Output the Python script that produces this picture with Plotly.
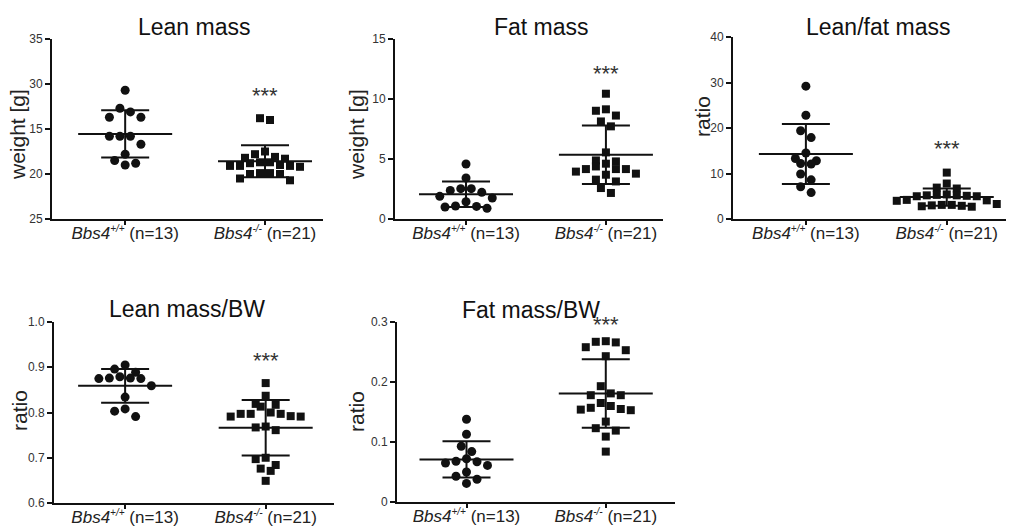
import statistics
import plotly.graph_objects as go

# Group labels (wild type vs knockout)
SUP = '<sup><span style="font-size:10px">{}</span></sup>'
group_labels = [
    "<i>Bbs4" + SUP.format("+/+") + "</i> (n=13)",
    "<i>Bbs4" + SUP.format("-/-") + "</i> (n=21)",
]

# Lean mass [g]
lean_wt = [29.3, 27.3, 26.9, 26.3, 26.3, 24.2, 24.2, 24.2, 23.3, 22.2, 21.5, 21.0, 21.2]
lean_ko = [26.2, 26.0, 22.5, 22.2, 21.9, 21.7, 21.8, 21.3, 21.3, 21.0, 20.8,
           20.9, 20.9, 20.9, 21.2, 20.1, 20.0, 20.0, 20.1, 19.3, 19.5]
lean_ticks = [15, 20, 25, 30, 35]
lean_ticktext = ["25", "20", "15", "30", "35"]

# Fat mass [g]
fat_wt = [4.58, 3.42, 2.53, 2.53, 2.22, 2.38, 1.89, 1.44, 1.75, 1.05, 0.90, 1.0, 1.08]
fat_ko = [10.44, 9.14, 9.02, 8.62, 8.13, 7.72, 5.55, 4.80, 4.88, 4.61, 4.38,
          4.16, 3.78, 3.95, 4.16, 4.16, 3.69, 3.28, 3.13, 2.58, 2.17]
fat_ticks = [0, 5, 10, 15]
fat_ticktext = ["0", "5", "10", "15"]

# Lean/fat mass ratio
leanfat_wt = [29.2, 22.8, 17.9, 19.4, 12.8, 12.1, 14.5, 12.2, 13.3, 9.9, 8.6, 7.1, 5.8]
leanfat_ko = [10.2, 7.8, 6.9, 6.7, 5.4, 5.0, 5.1, 5.3, 5.2, 5.2, 5.0,
              4.2, 4.1, 4.0, 3.3, 3.0, 2.8, 2.7, 2.9, 3.1, 3.1]
leanfat_ticks = [0, 10, 20, 30, 40]
leanfat_ticktext = ["0", "10", "20", "30", "40"]

# Lean mass / body weight
leanbw_wt = [0.905, 0.896, 0.889, 0.876, 0.875, 0.875, 0.876, 0.879, 0.859,
             0.834, 0.808, 0.803, 0.791]
leanbw_ko = [0.865, 0.837, 0.819, 0.817, 0.813, 0.800, 0.797, 0.792, 0.791, 0.791,
             0.797, 0.797, 0.767, 0.761, 0.769, 0.697, 0.700, 0.684, 0.671, 0.676, 0.649]
leanbw_ticks = [0.6, 0.7, 0.8, 0.9, 1.0]
leanbw_ticktext = ["0.6", "0.7", "0.8", "0.9", "1.0"]

# Fat mass / body weight
fatbw_wt = [0.138, 0.113, 0.093, 0.084, 0.072, 0.067, 0.068, 0.065, 0.061,
            0.050, 0.043, 0.038, 0.031]
fatbw_ko = [0.268, 0.266, 0.267, 0.253, 0.258, 0.243, 0.193, 0.181, 0.178, 0.178,
            0.165, 0.157, 0.155, 0.153, 0.160, 0.154, 0.134, 0.119, 0.123, 0.109, 0.084]
fatbw_ticks = [0, 0.1, 0.2, 0.3]
fatbw_ticktext = ["0", "0.1", "0.2", "0.3"]

W, H = 1009, 528
FONT = "Liberation Sans, Arial, sans-serif"
INK = "#111111"

# Panel geometry in pixels: plot box (left, right, top, bottom), category fractions,
# title / y-title anchors and the height of the significance stars.
panels = [
    dict(title="Lean mass", ytitle="weight [g]", wt=lean_wt, ko=lean_ko,
         ticks=lean_ticks, ticktext=lean_ticktext,
         box=(52, 323, 39, 219), cats=(0.27, 0.786),
         tpos=(194, 27), ypos=(18, 135), star=29.0),
    dict(title="Fat mass", ytitle="weight [g]", wt=fat_wt, ko=fat_ko,
         ticks=fat_ticks, ticktext=fat_ticktext,
         box=(395, 663, 39, 219), cats=(0.265, 0.787),
         tpos=(541, 27), ypos=(357, 135), star=12.3),
    dict(title="Lean/fat mass", ytitle="ratio", wt=leanfat_wt, ko=leanfat_ko,
         ticks=leanfat_ticks, ticktext=leanfat_ticktext,
         box=(733, 1006, 37, 219), cats=(0.267, 0.783),
         tpos=(878, 27), ypos=(703, 117), star=15.9),
    dict(title="Lean mass/BW", ytitle="ratio", wt=leanbw_wt, ko=leanbw_ko,
         ticks=leanbw_ticks, ticktext=leanbw_ticktext,
         box=(54, 334, 322, 503), cats=(0.254, 0.756),
         tpos=(187, 309), ypos=(19, 411), star=0.919),
    dict(title="Fat mass/BW", ytitle="ratio", wt=fatbw_wt, ko=fatbw_ko,
         ticks=fatbw_ticks, ticktext=fatbw_ticktext,
         box=(397, 675, 322, 502), cats=(0.25, 0.751),
         tpos=(531, 310), ypos=(356, 412), star=0.300),
]


def swarm_offsets(vals, px_per_unit, bin_px=10.0, step_px=10.0):
    """Prism-style scatter: points within bin_px (vertically) share a row,
    rows are spread symmetrically around the group centre. Returns pixels."""
    order = sorted(range(len(vals)), key=lambda i: -vals[i])
    rows, cur = [], []
    for i in order:
        if cur and (vals[cur[0]] - vals[i]) * px_per_unit > bin_px:
            rows.append(cur)
            cur = []
        cur.append(i)
    if cur:
        rows.append(cur)
    offs = [0.0] * len(vals)
    for row in rows:
        n = len(row)
        slots = [(k - (n - 1) / 2) * step_px for k in range(n)]
        slots.sort(key=lambda s: (abs(s), s))
        for i, s in zip(row, slots):
            offs[i] = s
    return offs


fig = go.Figure()
annotations = []
layout_axes = {}

for k, p in enumerate(panels, start=1):
    xs = "" if k == 1 else str(k)
    left, right, top, bottom = p["box"]
    f0, f1 = p["cats"]
    span = 1.0 / (f1 - f0)
    x_lo = -f0 * span
    x_hi = x_lo + span
    ymin, ymax = p["ticks"][0], p["ticks"][-1]
    px_x = (right - left) / span          # pixels per x unit
    px_y = (bottom - top) / (ymax - ymin)  # pixels per y unit

    for g, (vals, sym, size, step) in enumerate(
            [(p["wt"], "circle", 9, 10.5), (p["ko"], "square", 8, 10.0)]):
        offs = swarm_offsets(vals, px_y, bin_px=10, step_px=step)
        fig.add_trace(go.Scatter(
            x=[g + o / px_x for o in offs], y=vals, mode="markers",
            marker=dict(symbol=sym, size=size, color=INK, line=dict(width=0)),
            xaxis="x" + xs, yaxis="y" + xs, showlegend=False, hoverinfo="y"))

        m = statistics.mean(vals)
        sd = statistics.stdev(vals)
        hm = 47 / px_x   # half width of mean bar
        hs = 24 / px_x   # half width of SD caps
        lx = [g - hm, g + hm, None, g - hs, g + hs, None, g - hs, g + hs, None, g, g]
        ly = [m, m, None, m + sd, m + sd, None, m - sd, m - sd, None, m - sd, m + sd]
        fig.add_trace(go.Scatter(
            x=lx, y=ly, mode="lines", line=dict(color=INK, width=2),
            xaxis="x" + xs, yaxis="y" + xs, showlegend=False, hoverinfo="skip"))

    layout_axes["xaxis" + xs] = dict(
        domain=[left / W, right / W], range=[x_lo, x_hi], anchor="y" + xs,
        tickvals=[0, 1], ticktext=group_labels, ticks="outside", ticklen=4,
        tickwidth=1.5, tickcolor=INK, showline=True, linecolor=INK, linewidth=2,
        showgrid=False, zeroline=False, fixedrange=True, ticklabelstandoff=-6,
        tickfont=dict(family=FONT, size=17, color="#222222"))
    layout_axes["yaxis" + xs] = dict(
        domain=[1 - bottom / H, 1 - top / H], range=[ymin, ymax], anchor="x" + xs,
        tickvals=p["ticks"], ticktext=p["ticktext"], ticks="outside", ticklen=5,
        tickwidth=1.5, tickcolor=INK, showline=True, linecolor=INK, linewidth=2,
        showgrid=False, zeroline=False, fixedrange=True,
        tickfont=dict(family=FONT, size=12, color="#333333"))

    annotations.append(dict(
        text=p["title"], x=p["tpos"][0] / W, y=1 - p["tpos"][1] / H,
        xref="paper", yref="paper", xanchor="center", yanchor="middle",
        showarrow=False, font=dict(family=FONT, size=23, color=INK)))
    annotations.append(dict(
        text=p["ytitle"], x=p["ypos"][0] / W, y=1 - p["ypos"][1] / H,
        xref="paper", yref="paper", xanchor="center", yanchor="middle",
        textangle=-90, showarrow=False,
        font=dict(family=FONT, size=21, color="#222222")))
    annotations.append(dict(
        text="***", x=1, y=p["star"], xref="x" + xs, yref="y" + xs,
        xanchor="center", yanchor="middle", yshift=-2, showarrow=False,
        font=dict(family=FONT, size=22, color="#333333")))

fig.update_layout(
    width=W, height=H, margin=dict(l=0, r=0, t=0, b=0),
    paper_bgcolor="white", plot_bgcolor="white", template="none",
    annotations=annotations, showlegend=False, **layout_axes)

fig.write_html("out.html", config=dict(displayModeBar=False))
